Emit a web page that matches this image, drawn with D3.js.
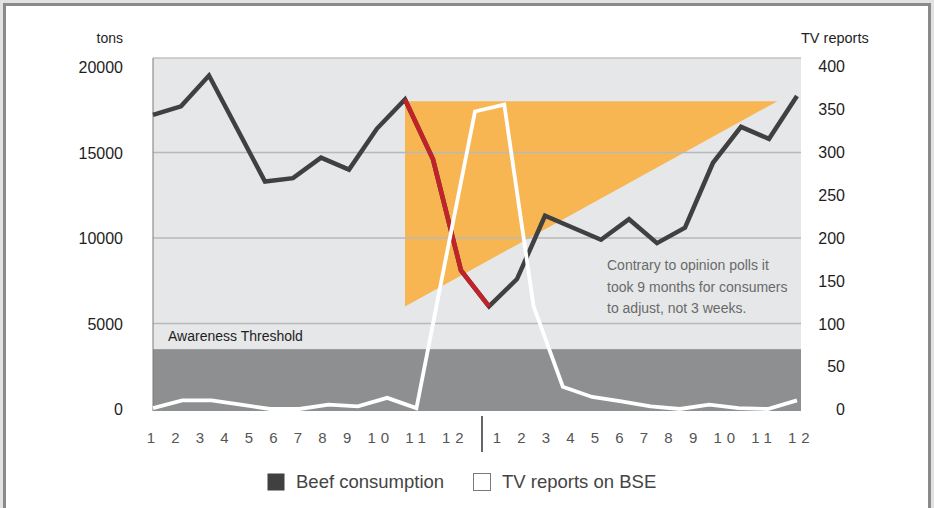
<!DOCTYPE html>
<html>
<head>
<meta charset="utf-8">
<script src="https://cdn.jsdelivr.net/npm/d3@7"></script>
<style>
  html, body { margin: 0; padding: 0; background: #e2e2e2; }
  svg { display: block; font-family: "Liberation Sans", Arial, sans-serif; }
</style>
</head>
<body>
<svg id="viz" width="934" height="508"></svg>
<script>
// month labels, one row per year
const monthLabels = ["1", "2", "3", "4", "5", "6", "7", "8", "9", "10", "11", "12"];
const yearBlocks = [0, 1];

// beef consumption in tons, one point per month (24 months)
const beefTons = [17200, 17700, 19500, 16400, 13300, 13500, 14700, 14000, 16400, 18100,
                  14600, 8100, 6000, 7600, 11300, 10600, 9900, 11100, 9700, 10600,
                  14400, 16500, 15800, 18300];
// months where the drop is highlighted in red
const dropStart = 9;
const dropEnd = 12;

// TV reports on BSE (23 readings)
const tvReports = [1, 10, 10, 5, 0, 0, 5, 3, 13, 1,
                   175, 347, 355, 120, 26, 14, 9, 3, 0, 5, 1, 0, 10];

const leftTicks = [0, 5000, 10000, 15000, 20000];
const rightTicks = [0, 50, 100, 150, 200, 250, 300, 350, 400];
const gridTicks = [5000, 10000, 15000];
const awarenessThreshold = 3500;

// the "adjustment" wedge, in month / tons
const wedge = [[9, 18000], [9, 6000], [22.3, 18000]];

const noteLines = [
    "Contrary to opinion polls it",
    "took 9 months for consumers",
    "to adjust, not 3 weeks."
];

const legendItems = [
    { label: "Beef consumption", fill: "#404040", stroke: "none", x: 267 },
    { label: "TV reports on BSE", fill: "#ffffff", stroke: "#7a7a7a", x: 473 }
];

const plot = { left: 153, right: 801, top: 58, bottom: 411 };

const svg = d3.select("#viz");
const width = +svg.attr("width");
const height = +svg.attr("height");

// page frame
svg.append("rect")
    .attr("x", 0).attr("y", 0)
    .attr("width", width).attr("height", height)
    .attr("fill", "#e2e2e2");
svg.append("rect")
    .attr("x", 4.5).attr("y", 4.5)
    .attr("width", 925).attr("height", 540)
    .attr("fill", "#ffffff")
    .attr("stroke", "#8a8a8a")
    .attr("stroke-width", 3);

// scales
const x = d3.scaleLinear()
    .domain([0, beefTons.length - 1])
    .range([153, 797]);

const xTv = d3.scalePoint()
    .domain(d3.range(tvReports.length))
    .range([153, 797]);

const yLeft = d3.scaleLinear()
    .domain([0, 20000])
    .range([409, 67]);

const yRight = d3.scaleLinear()
    .domain([0, 400])
    .range([409, 66]);

// plot background
svg.append("rect")
    .attr("x", plot.left).attr("y", plot.top)
    .attr("width", plot.right - plot.left)
    .attr("height", plot.bottom - plot.top)
    .attr("fill", "#e6e7e8");

// awareness threshold band
svg.append("rect")
    .attr("x", plot.left).attr("y", yLeft(awarenessThreshold))
    .attr("width", plot.right - plot.left)
    .attr("height", plot.bottom - yLeft(awarenessThreshold))
    .attr("fill", "#8e8f91");

svg.append("text")
    .attr("x", 168)
    .attr("y", 341)
    .attr("font-size", 14)
    .attr("fill", "#1e1e1e")
    .text("Awareness Threshold");

// wedge
svg.append("path")
    .attr("d", d3.line().x(d => x(d[0])).y(d => yLeft(d[1]))(wedge) + "Z")
    .attr("fill", "#f8b653");

// grid lines + frame
svg.append("g")
    .selectAll("line")
    .data(gridTicks)
    .join("line")
    .attr("x1", plot.left).attr("x2", plot.right)
    .attr("y1", d => yLeft(d)).attr("y2", d => yLeft(d))
    .attr("stroke", "#b8b8b8")
    .attr("stroke-width", 1.5);

svg.append("line")
    .attr("x1", plot.left).attr("x2", plot.right)
    .attr("y1", plot.top).attr("y2", plot.top)
    .attr("stroke", "#c2c2c2").attr("stroke-width", 1.5);
svg.append("line")
    .attr("x1", plot.left).attr("x2", plot.left)
    .attr("y1", plot.top).attr("y2", plot.bottom)
    .attr("stroke", "#7a7a7a").attr("stroke-width", 1);

// annotation
svg.append("text")
    .attr("font-size", 14)
    .attr("fill", "#6a6a6a")
    .selectAll("tspan")
    .data(noteLines)
    .join("tspan")
    .attr("x", 607)
    .attr("y", (d, i) => 270 + i * 21.5)
    .text(d => d);

// beef line
const beefLine = d3.line()
    .x((d, i) => x(i))
    .y(d => yLeft(d));

svg.append("path")
    .datum(beefTons)
    .attr("d", beefLine)
    .attr("fill", "none")
    .attr("stroke", "#404040")
    .attr("stroke-width", 4.5)
    .attr("stroke-linejoin", "miter");

const dropPoints = beefTons.map((v, i) => [i, v]).slice(dropStart, dropEnd + 1);
svg.append("path")
    .datum(dropPoints)
    .attr("d", d3.line().x(d => x(d[0])).y(d => yLeft(d[1])))
    .attr("fill", "none")
    .attr("stroke", "#c1232b")
    .attr("stroke-width", 4.5);

// TV reports line
svg.append("path")
    .datum(tvReports)
    .attr("d", d3.line().x((d, i) => xTv(i)).y(d => yRight(d)))
    .attr("fill", "none")
    .attr("stroke", "#ffffff")
    .attr("stroke-width", 3.8);

// axes
const leftAxis = svg.append("g")
    .attr("transform", "translate(123,0)")
    .call(d3.axisLeft(yLeft).tickValues(leftTicks).tickSize(0).tickPadding(0).tickFormat(d3.format("d")));
leftAxis.select(".domain").remove();
leftAxis.selectAll("text")
    .attr("font-size", 16)
    .attr("font-family", "Liberation Sans, Arial, sans-serif")
    .attr("fill", "#1e1e1e")
    .attr("dy", "0.36em");

const rightAxis = svg.append("g")
    .attr("transform", "translate(845,0)")
    .call(d3.axisRight(yRight).tickValues(rightTicks).tickSize(0).tickPadding(0));
rightAxis.select(".domain").remove();
rightAxis.selectAll("text")
    .attr("font-size", 16)
    .attr("font-family", "Liberation Sans, Arial, sans-serif")
    .attr("fill", "#1e1e1e")
    .attr("text-anchor", "end")
    .attr("x", 0)
    .attr("dy", "0.36em");

svg.append("text")
    .attr("x", 123).attr("y", 43)
    .attr("text-anchor", "end")
    .attr("font-size", 14)
    .attr("fill", "#1e1e1e")
    .text("tons");

svg.append("text")
    .attr("x", 801).attr("y", 43)
    .attr("font-size", 14.5)
    .attr("fill", "#1e1e1e")
    .text("TV reports");

// month labels: two letter-spaced rows split by a tick
svg.append("g")
    .selectAll("text")
    .data(yearBlocks)
    .join("text")
    .attr("x", d => 146.8 + d * 346)
    .attr("y", 442.5)
    .attr("font-size", 15)
    .attr("fill", "#555555")
    .attr("letter-spacing", 5)
    .attr("word-spacing", 2)
    .text(monthLabels.join(" "));

svg.append("line")
    .attr("x1", 482).attr("x2", 482)
    .attr("y1", 416).attr("y2", 452)
    .attr("stroke", "#333333")
    .attr("stroke-width", 1.5);

// legend
const legend = svg.append("g")
    .selectAll("g")
    .data(legendItems)
    .join("g")
    .attr("transform", d => `translate(${d.x},473)`);

legend.append("rect")
    .attr("x", 0.5).attr("y", 0.5)
    .attr("width", 17).attr("height", 17)
    .attr("fill", d => d.fill)
    .attr("stroke", d => d.stroke);

legend.append("text")
    .attr("x", 29)
    .attr("y", 15)
    .attr("font-size", 18.5)
    .attr("fill", "#444444")
    .text(d => d.label);
</script>
</body>
</html>
